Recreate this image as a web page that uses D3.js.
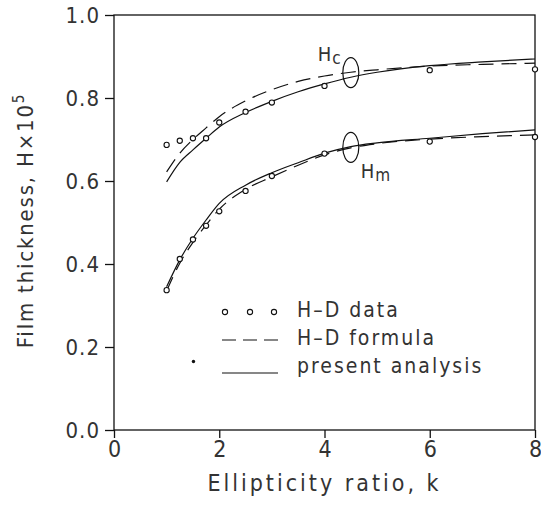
<!DOCTYPE html>
<html lang="en">
<head>
    <meta charset="UTF-8">
    <title>Film thickness vs ellipticity ratio</title>
    <script src="https://d3js.org/d3.v7.min.js"></script>
    <style>
        body { margin: 0; padding: 0; background: #fff; }
        svg { display: block; }
        text {
            font-family: "Liberation Sans Narrow", "DejaVu Sans Condensed", "Liberation Sans", sans-serif;
            fill: #333;
        }
    </style>
</head>
<body>
    <svg id="chart" width="541" height="508"></svg>

    <script>
        // measured H-D data points
        const kData = [1, 1.25, 1.5, 1.75, 2, 2.5, 3, 4, 6, 8];
        const hcData = [0.687, 0.697, 0.703, 0.703, 0.741, 0.767, 0.789, 0.829, 0.867, 0.869];
        const hmData = [0.337, 0.412, 0.459, 0.492, 0.527, 0.576, 0.612, 0.666, 0.695, 0.706];

        // curves (H-D formula = dashed, present analysis = solid)
        const kCurve = [1, 1.25, 1.5, 1.75, 2, 2.5, 3, 3.5, 4, 4.5, 5, 6, 7, 8];
        const hcFormula = [0.622, 0.667, 0.700, 0.728, 0.755, 0.793, 0.820, 0.840, 0.853, 0.862, 0.868, 0.877, 0.881, 0.884];
        const hcPresent = [0.598, 0.645, 0.675, 0.703, 0.730, 0.765, 0.792, 0.815, 0.834, 0.850, 0.862, 0.878, 0.887, 0.894];
        const hmFormula = [0.335, 0.402, 0.452, 0.494, 0.532, 0.580, 0.610, 0.638, 0.663, 0.680, 0.690, 0.701, 0.707, 0.711];
        const hmPresent = [0.345, 0.410, 0.462, 0.506, 0.546, 0.590, 0.620, 0.644, 0.667, 0.683, 0.692, 0.703, 0.714, 0.723];

        const xTicks = [0, 2, 4, 6, 8];
        const yTicks = [0, 0.2, 0.4, 0.6, 0.8, 1.0];
        const speck = [[1.51, 0.165]];

        const svg = d3.select("#chart");
        const margin = { top: 15, right: 6, bottom: 78, left: 114 };
        const width = +svg.attr("width") - margin.left - margin.right;
        const height = +svg.attr("height") - margin.top - margin.bottom;

        const g = svg.append("g").attr("transform", `translate(${margin.left},${margin.top})`);

        const x = d3.scaleLinear().domain([0, 8]).range([0, width]);
        const y = d3.scaleLinear().domain([0, 1]).range([height, 0]);

        // frame
        g.append("rect")
            .attr("width", width).attr("height", height)
            .attr("fill", "none").attr("stroke", "#111").attr("stroke-width", 1.3);

        const xAxis = g.append("g")
            .attr("transform", `translate(0,${height})`)
            .call(d3.axisBottom(x).tickValues(xTicks).tickFormat(d3.format("d")).tickSize(8).tickPadding(3));
        xAxis.select(".domain").remove();
        xAxis.selectAll("line").attr("stroke", "#111").attr("stroke-width", 1.3);
        xAxis.selectAll("text").attr("font-size", 23).attr("fill", "#333");

        const yAxis = g.append("g")
            .call(d3.axisLeft(y).tickValues(yTicks).tickFormat(d3.format(".1f")).tickSize(9).tickPadding(5));
        yAxis.select(".domain").remove();
        yAxis.selectAll("line").attr("stroke", "#111").attr("stroke-width", 1.3);
        yAxis.selectAll("text").attr("font-size", 22).attr("fill", "#333").attr("letter-spacing", 1);

        // axis titles
        svg.append("text")
            .attr("x", margin.left + width / 2).attr("y", 491)
            .attr("text-anchor", "middle")
            .attr("font-size", 23).attr("letter-spacing", 3)
            .text("Ellipticity ratio, k");

        const yt = svg.append("text")
            .attr("transform", `translate(33,${margin.top + height / 2 - 2}) rotate(-90)`)
            .attr("text-anchor", "middle")
            .attr("font-size", 22).attr("letter-spacing", 1.8);
        yt.append("tspan").text("Film thickness, H\u00d710");
        yt.append("tspan").attr("dy", -9).attr("font-size", 15).text("5");

        // curves
        const line = d3.line()
            .x(d => x(d[0]))
            .y(d => y(d[1]))
            .curve(d3.curveMonotoneX);

        const curves = [
            { vals: hcFormula, dash: "15,8" },
            { vals: hcPresent, dash: null },
            { vals: hmFormula, dash: "15,8" },
            { vals: hmPresent, dash: null }
        ];
        curves.forEach(c => {
            g.append("path")
                .datum(kCurve.map((k, i) => [k, c.vals[i]]))
                .attr("d", line)
                .attr("fill", "none")
                .attr("stroke", "#111")
                .attr("stroke-width", 1.2)
                .attr("stroke-dasharray", c.dash);
        });

        // data points
        [hcData, hmData].forEach(vals => {
            g.selectAll(null)
                .data(kData.map((k, i) => [k, vals[i]]))
                .enter().append("circle")
                .attr("cx", d => x(d[0]))
                .attr("cy", d => y(d[1]))
                .attr("r", 2.6)
                .attr("fill", "#fff")
                .attr("stroke", "#111")
                .attr("stroke-width", 1.1);
        });

        g.selectAll(null).data(speck).enter().append("circle")
            .attr("cx", d => x(d[0])).attr("cy", d => y(d[1]))
            .attr("r", 1.7).attr("fill", "#111");

        // group annotations: ellipse + label
        const groups = [
            { name: "H", sub: "c", k: 4.5, h: 0.861, lx: -33, ly: -12 },
            { name: "H", sub: "m", k: 4.5, h: 0.681, lx: 10, ly: 31 }
        ];
        groups.forEach(a => {
            const cx = x(a.k), cy = y(a.h);
            g.append("ellipse")
                .attr("cx", cx).attr("cy", cy)
                .attr("rx", 8).attr("ry", 15)
                .attr("fill", "none").attr("stroke", "#111").attr("stroke-width", 1.2);
            const t = g.append("text")
                .attr("x", cx + a.lx).attr("y", cy + a.ly)
                .attr("font-size", 20).attr("letter-spacing", 1);
            t.append("tspan").text(a.name);
            t.append("tspan").attr("dy", 3).attr("font-size", 17).text(a.sub);
        });

        // legend
        const legend = svg.append("g").attr("transform", "translate(222,0)");
        const rows = [
            { label: "H\u2013D data", y: 317, kind: "dots" },
            { label: "H\u2013D formula", y: 345, kind: "dash" },
            { label: "present analysis", y: 373, kind: "solid" }
        ];
        rows.forEach(r => {
            if (r.kind === "dots") {
                [3, 28, 52].forEach(dx => {
                    legend.append("circle")
                        .attr("cx", dx).attr("cy", r.y - 5).attr("r", 2.6)
                        .attr("fill", "#fff").attr("stroke", "#111").attr("stroke-width", 1.1);
                });
            } else {
                legend.append("line")
                    .attr("x1", 0).attr("x2", 56)
                    .attr("y1", r.kind === "dash" ? r.y - 5 : r.y).attr("y2", r.kind === "dash" ? r.y - 5 : r.y)
                    .attr("stroke", "#111").attr("stroke-width", 1.1)
                    .attr("stroke-dasharray", r.kind === "dash" ? "14,7" : null);
            }
            legend.append("text")
                .attr("x", 75).attr("y", r.y)
                .attr("font-size", 21).attr("letter-spacing", 2)
                .text(r.label);
        });
    </script>
</body>
</html>
